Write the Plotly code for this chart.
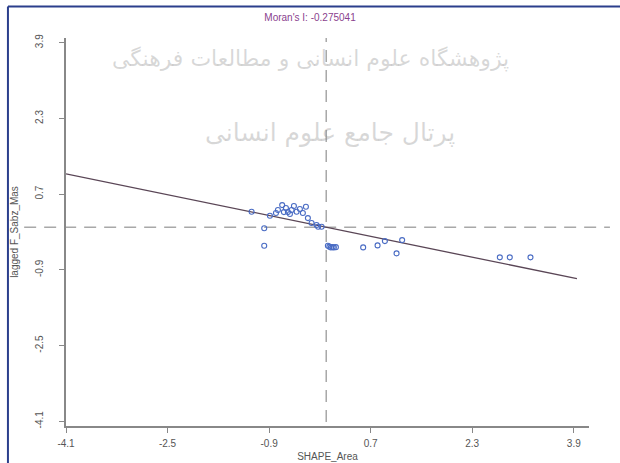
import plotly.graph_objects as go

# Moran scatter plot: standardized SHAPE_Area vs. spatially lagged F_Sabz_Mas
morans_i = -0.275041

shape_area = [
    -1.176, -0.977, -0.977, -0.887, -0.761, -0.694, -0.604, -0.546, -0.467,
    -0.320, -0.368, -0.289, -0.231, -0.152, -0.073, -0.127, -0.667, -0.635,
    -0.572, -0.509, -0.415, -0.792,
    0.026, 0.050, 0.073, 0.100, 0.120, 0.152,
    0.582, 0.809, 0.924, 1.196, 1.108, 2.735, 2.892, 3.218,
]
lagged_sabz = [
    0.328, -0.020, -0.390, 0.243, 0.364, 0.469, 0.321, 0.364, 0.328,
    0.433, 0.300, 0.194, 0.089, 0.047, 0.011, 0.011, 0.321, 0.406,
    0.279, 0.448, 0.385, 0.300,
    -0.391, -0.410, -0.425, -0.420, -0.425, -0.420,
    -0.425, -0.383, -0.292, -0.271, -0.552, -0.636, -0.636, -0.636,
]

tick_vals = [-4.1, -2.5, -0.9, 0.7, 2.3, 3.9]
tick_text = ["-4.1", "-2.5", "-0.9", "0.7", "2.3", "3.9"]

x_range = [-4.1, 4.14]
y_range = [-4.2, 4.0]
fit_x = [-4.1, 3.95]
fit_y = [morans_i * v for v in fit_x]

watermark_lines = ["پژوهشگاه علوم انسانی و مطالعات فرهنگی", "پرتال جامع علوم انسانی"]

fig = go.Figure()

fig.add_trace(go.Scatter(
    x=fit_x, y=fit_y, mode="lines",
    line=dict(color="#5a4656", width=1.3),
    hoverinfo="skip", showlegend=False,
))

fig.add_trace(go.Scatter(
    x=shape_area, y=lagged_sabz, mode="markers",
    marker=dict(symbol="circle-open", size=5, color="#4a6cc4",
                line=dict(width=1.1, color="#4a6cc4")),
    showlegend=False,
))

shapes = [
    # reference lines through the means
    dict(type="line", xref="x", yref="paper", x0=0, x1=0, y0=0.01, y1=1.0,
         line=dict(color="#a8a8a8", width=1.5, dash="12px,8px"), layer="below"),
    dict(type="line", xref="paper", yref="y", x0=-0.08, x1=1.04, y0=0, y1=0,
         line=dict(color="#a8a8a8", width=1.5, dash="12px,8px"), layer="below"),
    # page frame
    dict(type="line", xref="paper", yref="paper", x0=-0.111, x1=-0.111, y0=-0.2, y1=1.081,
         line=dict(color="#2b3f8c", width=2)),
    dict(type="line", xref="paper", yref="paper", x0=-0.111, x1=1.2, y0=1.081, y1=1.081,
         line=dict(color="#2b3f8c", width=2)),
]

annotations = [
    dict(text=watermark_lines[0], xref="paper", yref="paper", x=0.467, y=0.985,
         showarrow=False, font=dict(family="DejaVu Sans", size=22, color="rgba(140,140,140,0.34)")),
    dict(text=watermark_lines[1], xref="paper", yref="paper", x=0.505, y=0.80,
         showarrow=False, font=dict(family="DejaVu Sans", size=25, color="rgba(140,140,140,0.34)")),
]

fig.update_layout(
    width=620, height=463,
    margin=dict(l=66, r=31, t=38, b=37, autoexpand=False),
    paper_bgcolor="white", plot_bgcolor="white",
    title=dict(text="Moran's I: -0.275041", x=0.5, xanchor="center", y=0.962, yanchor="middle",
               font=dict(family="Arial", size=10, color="#8a3f8e")),
    xaxis=dict(range=x_range, tickvals=tick_vals, ticktext=tick_text, automargin=False,
               showgrid=False, zeroline=False, showline=True, linecolor="#888888", linewidth=1.5,
               ticks="outside", ticklen=5, tickcolor="#888888", ticklabelstandoff=2,
               tickfont=dict(family="Arial", size=10, color="#555555"),
               title=dict(text="SHAPE_Area", font=dict(family="Arial", size=10, color="#555555"),
                          standoff=5)),
    yaxis=dict(range=y_range, tickvals=tick_vals, ticktext=tick_text, tickangle=-90, automargin=False,
               showgrid=False, zeroline=False, showline=True, linecolor="#888888", linewidth=1.5,
               ticks="outside", ticklen=5, tickcolor="#888888", ticklabelstandoff=12,
               tickfont=dict(family="Arial", size=10, color="#555555"),
               title=dict(text="lagged F_Sabz_Mas", font=dict(family="Arial", size=10, color="#555555"),
                          standoff=14)),
    shapes=shapes,
    annotations=annotations,
)

fig.write_html("out.html")
